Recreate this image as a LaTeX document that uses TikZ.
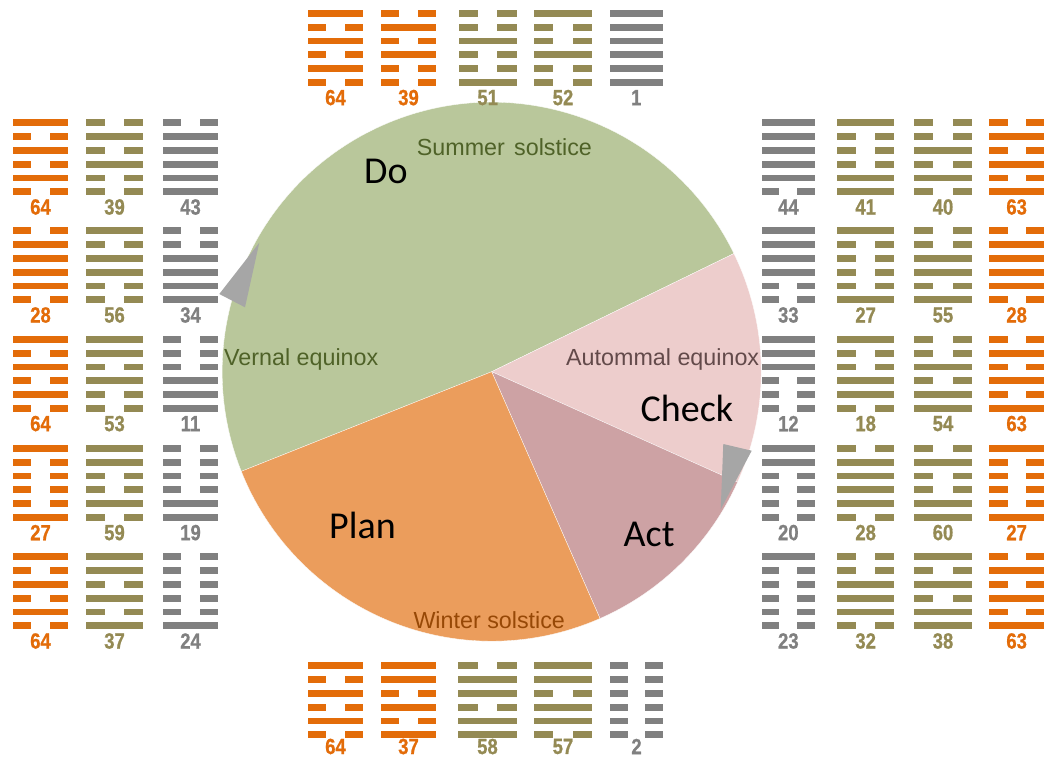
\documentclass[tikz,border=0pt]{standalone}
\usepackage{fontspec}
\setmainfont{Liberation Sans}
\newfontfamily\calfont{Carlito}
\newfontfamily\numfont[FakeStretch=0.84,FakeBold=0.8]{Liberation Sans}
\definecolor{orng}{RGB}{227,108,9}
\definecolor{olv}{RGB}{148,138,84}
\definecolor{gry}{RGB}{128,128,128}
\definecolor{dogreen}{RGB}{185,199,155}
\definecolor{checkpink}{RGB}{237,205,204}
\definecolor{actrose}{RGB}{205,162,164}
\definecolor{planorange}{RGB}{235,157,92}
\definecolor{summertext}{RGB}{79,98,40}
\definecolor{autumntext}{RGB}{99,74,74}
\definecolor{wintertext}{RGB}{151,72,6}
\definecolor{arrowgray}{RGB}{166,166,166}
\tikzset{
  lbl/.style={font=\numfont\bfseries\fontsize{22}{22}\selectfont, inner sep=0pt, anchor=center},
  season/.style={font=\fontsize{23.3}{24}\selectfont, inner sep=0pt, anchor=base west},
  phase/.style={font=\calfont\fontsize{38}{40}\selectfont, inner sep=0pt, anchor=base west, text=black},
  wedge/.style={draw=white, line width=0.3pt},
  turn/.style={fill=arrowgray},
}
% #1 name, #2 x-left, #3 y of first line, #4 width, #5 colour, #6 bits (top to bottom), #7 label, #8 label offset
\newcommand\hexg[8]{%
  \foreach \bit [count=\k from 0] in {#6}{%
    \pgfmathsetmacro\yy{#3+13.8*\k}%
    \ifnum\bit=1
      \fill[#5] (#2,\yy-3.4) rectangle ++(#4,6.8);
    \else
      \fill[#5] (#2,\yy-3.4) rectangle ++(#4/3,6.8);
      \fill[#5] (#2+#4*2/3,\yy-3.4) rectangle ++(#4/3,6.8);
    \fi
  }
  \node[lbl,text=#5] (#1) at (#2+#4/2,#3+#8) {#7};
}
\begin{document}
\begin{tikzpicture}[x=1pt,y=-1pt]
\useasboundingbox (0,0) rectangle (1045,758);
\fill[white] (0,0) rectangle (1045,758);
\coordinate (C) at (491.7,371.7);
\def\R{269.5}
% pie wedges (TikZ angle = minus visual angle, y axis points down)
\filldraw[wedge,fill=dogreen] (C) -- ++(-26:\R) arc[start angle=-26, end angle=-201.7, radius=\R] -- cycle;
\filldraw[wedge,fill=checkpink] (C) -- ++(24.2:\R) arc[start angle=24.2, end angle=-26, radius=\R] -- cycle;
\filldraw[wedge,fill=actrose] (C) -- ++(66.3:\R) arc[start angle=66.3, end angle=24.2, radius=\R] -- cycle;
\filldraw[wedge,fill=planorange] (C) -- ++(158.3:\R) arc[start angle=158.3, end angle=66.3, radius=\R] -- cycle;
% direction arrowheads
\fill[turn] (723.3,444) -- (751.7,450.7) -- (720.7,509.3) -- cycle;
\fill[turn] (259.3,242.7) -- (219.3,294) -- (245,307.3) -- cycle;
% top row
\hexg{t1}{307.7}{13.3}{55.6}{orng}{1,0,1,0,1,0}{64}{84.3}
\hexg{t2}{381}{13.3}{55}{orng}{0,1,0,1,0,0}{39}{84.3}
\hexg{t3}{458.7}{13.3}{58}{olv}{0,0,1,0,0,1}{51}{84.3}
\hexg{t4}{534}{13.3}{58}{olv}{1,0,0,1,0,0}{52}{84.3}
\hexg{t5}{610}{13.3}{52.5}{gry}{1,1,1,1,1,1}{1}{84.3}
% left block
\hexg{l11}{12.7}{122.7}{55.6}{orng}{1,0,1,0,1,0}{64}{84.3}
\hexg{l12}{86}{122.7}{57}{olv}{0,1,0,1,0,0}{39}{84.3}
\hexg{l13}{163}{122.7}{55}{gry}{0,1,1,1,1,1}{43}{84.3}
\hexg{l21}{12.7}{230.7}{55.6}{orng}{0,1,1,1,1,0}{28}{84.3}
\hexg{l22}{86}{230.7}{57}{olv}{1,0,1,1,0,0}{56}{84.3}
\hexg{l23}{163}{230.7}{55}{gry}{0,0,1,1,1,1}{34}{84.3}
\hexg{l31}{12.7}{339.3}{55.6}{orng}{1,0,1,0,1,0}{64}{84.3}
\hexg{l32}{86}{339.3}{57}{olv}{1,1,0,1,0,0}{53}{84.3}
\hexg{l33}{163}{339.3}{55}{gry}{0,0,0,1,1,1}{11}{84.3}
\hexg{l41}{12.7}{448.3}{55.6}{orng}{1,0,0,0,0,1}{27}{84.3}
\hexg{l42}{86}{448.3}{57}{olv}{1,1,0,0,1,0}{59}{84.3}
\hexg{l43}{163}{448.3}{55}{gry}{0,0,0,0,1,1}{19}{84.3}
\hexg{l51}{12.7}{556.7}{55.6}{orng}{1,0,1,0,1,0}{64}{84.3}
\hexg{l52}{86}{556.7}{57}{olv}{1,1,0,1,0,1}{37}{84.3}
\hexg{l53}{163}{556.7}{55}{gry}{0,0,0,0,0,1}{24}{84.3}
% right block
\hexg{r11}{761.7}{122.7}{53.3}{gry}{1,1,1,1,1,0}{44}{84.3}
\hexg{r12}{837.3}{122.7}{56.7}{olv}{1,0,0,0,1,1}{41}{84.3}
\hexg{r13}{914.3}{122.7}{57.4}{olv}{0,0,1,0,1,0}{40}{84.3}
\hexg{r14}{989.3}{122.7}{54.7}{orng}{0,1,0,1,0,1}{63}{84.3}
\hexg{r21}{761.7}{230.7}{53.3}{gry}{1,1,1,1,0,0}{33}{84.3}
\hexg{r22}{837.3}{230.7}{56.7}{olv}{1,0,0,0,0,1}{27}{84.3}
\hexg{r23}{914.3}{230.7}{57.4}{olv}{0,0,1,1,0,1}{55}{84.3}
\hexg{r24}{989.3}{230.7}{54.7}{orng}{0,1,1,1,1,0}{28}{84.3}
\hexg{r31}{761.7}{339.3}{53.3}{gry}{1,1,1,0,0,0}{12}{84.3}
\hexg{r32}{837.3}{339.3}{56.7}{olv}{1,0,0,1,1,0}{18}{84.3}
\hexg{r33}{914.3}{339.3}{57.4}{olv}{0,0,1,0,1,1}{54}{84.3}
\hexg{r34}{989.3}{339.3}{54.7}{orng}{0,1,0,1,0,1}{63}{84.3}
\hexg{r41}{761.7}{448.3}{53.3}{gry}{1,1,0,0,0,0}{20}{84.3}
\hexg{r42}{837.3}{448.3}{56.7}{olv}{0,1,1,1,1,0}{28}{84.3}
\hexg{r43}{914.3}{448.3}{57.4}{olv}{0,1,0,0,1,1}{60}{84.3}
\hexg{r44}{989.3}{448.3}{54.7}{orng}{1,0,0,0,0,1}{27}{84.3}
\hexg{r51}{761.7}{556.7}{53.3}{gry}{1,0,0,0,0,0}{23}{84.3}
\hexg{r52}{837.3}{556.7}{56.7}{olv}{0,0,1,1,1,0}{32}{84.3}
\hexg{r53}{914.3}{556.7}{57.4}{olv}{1,0,1,0,1,1}{38}{84.3}
\hexg{r54}{989.3}{556.7}{54.7}{orng}{0,1,0,1,0,1}{63}{84.3}
% bottom row
\hexg{b1}{307.7}{665.7}{55.6}{orng}{1,0,1,0,1,0}{64}{80.8}
\hexg{b2}{381}{665.7}{55}{orng}{1,1,0,1,0,1}{37}{80.8}
\hexg{b3}{458}{665.7}{59}{olv}{0,1,1,0,1,1}{58}{80.8}
\hexg{b4}{534}{665.7}{58}{olv}{1,1,0,1,1,0}{57}{80.8}
\hexg{b5}{610}{665.7}{53}{gry}{0,0,0,0,0,0}{2}{80.8}
% season texts
\node[season,text=summertext] (summer) at (416.7,155) {Summer\hspace{0.12em} solstice};
\node[season,text=summertext] (vernal) at (224,365) {Vernal equinox};
\node[season,text=autumntext] (autumn) at (566,365) {Autommal equinox};
\node[season,text=wintertext] (winter) at (413.3,628.3) {Winter solstice};
% phase texts
\node[phase] (do) at (364,183.3) {Do};
\node[phase] (check) at (640.5,421.7) {Check};
\node[phase] (act) at (623.5,546.7) {Act};
\node[phase] (plan) at (329,538.3) {Plan};
\end{tikzpicture}
\end{document}
